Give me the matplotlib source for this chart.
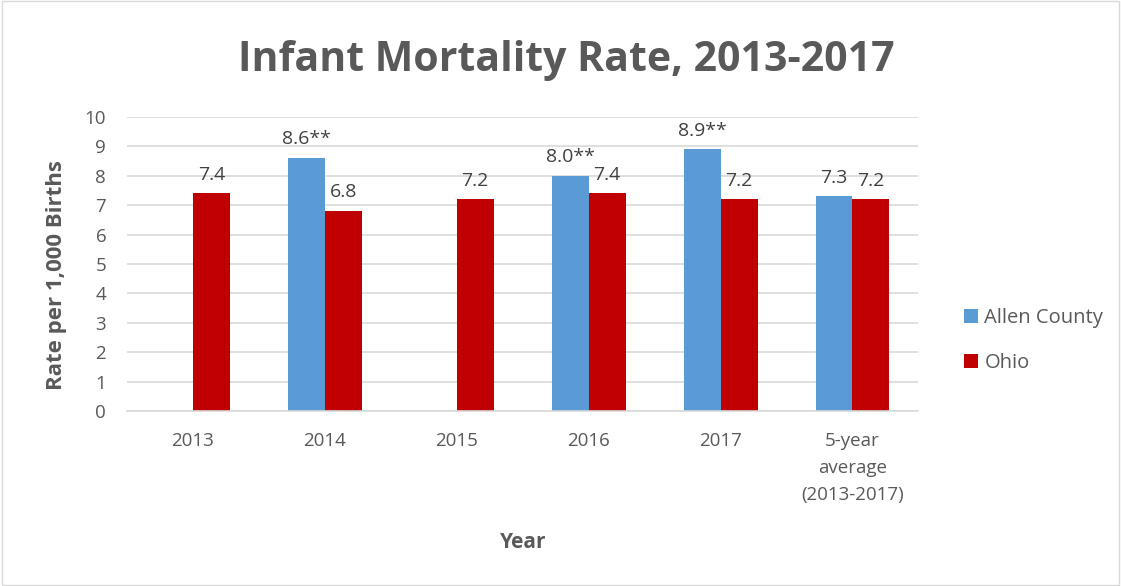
import numpy as np
import matplotlib.pyplot as plt
from matplotlib.patches import Rectangle

plt.rcParams['font.family'] = ['Open Sans', 'DejaVu Sans']

categories = ["2013", "2014", "2015", "2016", "2017", "5-year\naverage\n(2013-2017)"]
allen = [np.nan, 8.6, np.nan, 8.0, 8.9, 7.3]
ohio = [7.4, 6.8, 7.2, 7.4, 7.2, 7.2]
allen_labels = ["", "8.6**", "", "8.0**", "8.9**", "7.3"]
ohio_labels = ["7.4", "6.8", "7.2", "7.4", "7.2", "7.2"]

blue = "#5B9BD5"
red = "#C00000"
gray = "#595959"

fig = plt.figure(figsize=(11.21, 5.86), dpi=100)
ax = fig.add_axes([0.1133, 0.2986, 0.706, 0.5017])

x = np.arange(len(categories))
w = 0.28
b1 = ax.bar(x - w / 2, allen, w, color=blue, label="Allen County", zorder=2)
b2 = ax.bar(x + w / 2, ohio, w, color=red, label="Ohio", zorder=2)

for rect, lab in zip(b1, allen_labels):
    if lab:
        ax.annotate(lab, (rect.get_x() + rect.get_width() / 2, rect.get_height()),
                    xytext=(0, 7), textcoords="offset points", ha="center", va="bottom",
                    fontsize=14, color="#404040")
for rect, lab in zip(b2, ohio_labels):
    ax.annotate(lab, (rect.get_x() + rect.get_width() / 2, rect.get_height()),
                xytext=(0, 7), textcoords="offset points", ha="center", va="bottom",
                fontsize=14, color="#404040")

ax.set_xlim(-0.5, len(categories) - 0.5)
ax.set_ylim(0, 10)
ax.set_yticks(range(0, 11))
ax.set_xticks(x)
ax.set_xticklabels(categories, fontsize=13.5, color=gray, linespacing=1.65)
ax.tick_params(axis="y", labelsize=13.5, labelcolor=gray, length=0, pad=15)
ax.tick_params(axis="x", length=0, pad=15)
ax.grid(axis="y", color="#D9D9D9", linewidth=1.2, zorder=0)
for s in ["top", "right", "left"]:
    ax.spines[s].set_visible(False)
ax.spines["bottom"].set_color("#D9D9D9")
ax.spines["bottom"].set_linewidth(1.2)

ax.set_ylabel("Rate per 1,000 Births", fontsize=16, fontweight="bold", color=gray)
ax.yaxis.set_label_coords(-0.076, 0.463)
ax.set_xlabel("Year", fontsize=15, fontweight="bold", color=gray, labelpad=20)

fig.text(0.505, 0.897, "Infant Mortality Rate, 2013-2017", ha="center", va="center",
         fontsize=29.5, fontweight="bold", color=gray)

ax.legend(loc="center left", bbox_to_anchor=(1.035, 0.24), frameon=False, fontsize=14.5,
          labelcolor=gray, handlelength=0.7, handleheight=0.7, handletextpad=0.3,
          labelspacing=1.25)

fig.patches.append(Rectangle((0.002, 0.002), 0.996, 0.996, transform=fig.transFigure,
                             fill=False, edgecolor="#D9D9D9", linewidth=1))

fig.savefig("out.png", dpi=100)
